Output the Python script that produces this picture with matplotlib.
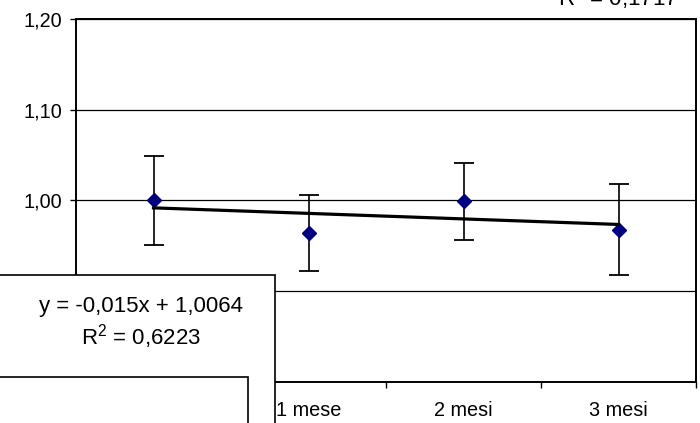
import numpy as np
import matplotlib
matplotlib.use("Agg")
import matplotlib.pyplot as plt
from matplotlib.patches import Rectangle
from matplotlib.ticker import FuncFormatter, FixedLocator

plt.rcParams.update({"font.family": ["Liberation Sans", "DejaVu Sans"], "font.size": 14.3,
                     "mathtext.fontset": "custom", "mathtext.rm": "Liberation Sans",
                     "mathtext.it": "Liberation Sans", "mathtext.default": "regular"})

# time points (first label sits under the legend box)
periodi = ["", "1 mese", "2 mesi", "3 mesi"]
media = [1.000, 0.964, 0.999, 0.968]
err = [0.049, 0.042, 0.042, 0.050]

eq_txt = "y = -0,015x + 1,0064"
r2_txt = "R$^{2}$ = 0,6223"
r2_other = "R$^{2}$ = 0,1717"

W, H = 700, 423
fig = plt.figure(figsize=(W / 100, H / 100), dpi=100)
ax = fig.add_axes([76 / W, 1 - 382 / H, 620 / W, 363 / H])

x = np.arange(1, len(media) + 1)
ax.errorbar(x, media, yerr=err, fmt="none", ecolor="black", elinewidth=1.2,
            capsize=7, capthick=1.3, zorder=3)
ax.plot(x, media, "D", ms=7, color="#000080", zorder=4)

# linear trend
k, q = np.polyfit(x, media, 1)
ax.plot([x[0], x[-1]], [k * x[0] + q, k * x[-1] + q], color="black", lw=2.3, zorder=5)

ax.set_xlim(0.5, len(media) + 0.5)
ax.set_ylim(0.80, 1.20)
ax.set_yticks([0.80, 0.90, 1.00, 1.10, 1.20])
ax.yaxis.set_major_formatter(FuncFormatter(lambda v, p: f"{v:.2f}".replace(".", ",")))
ax.yaxis.grid(True, color="black", lw=0.9)
ax.set_axisbelow(True)

ax.set_xticks(x)
ax.set_xticklabels(periodi)
ax.tick_params(axis="x", which="major", length=0, pad=14)
ax.xaxis.set_minor_locator(FixedLocator(np.arange(0.5, len(media) + 1, 1.0)))
ax.tick_params(axis="x", which="minor", length=4, direction="out", width=1)
ax.tick_params(axis="y", length=4, direction="out", width=1, pad=6)
for s in ax.spines.values():
    s.set_linewidth(1.4)

# overlapping label boxes (figure pixel coordinates)
def box(x0, y0, x1, y1, z):
    fig.add_artist(Rectangle((x0 / W, 1 - y1 / H), (x1 - x0) / W, (y1 - y0) / H,
                             transform=fig.transFigure, facecolor="white",
                             edgecolor="black", lw=1.2, zorder=z))

box(-10, 275, 275, 440, 10)
fig.text(141 / W, 1 - 306 / H, eq_txt, ha="center", va="center", fontsize=16, zorder=11)
fig.text(141 / W, 1 - 337 / H, r2_txt, ha="center", va="center", fontsize=16, zorder=11)
box(-10, 377, 248, 440, 12)

fig.text(678 / W, 1 - 5 / H, r2_other, ha="right", va="baseline", fontsize=16)

fig.savefig("out.png", dpi=100)
